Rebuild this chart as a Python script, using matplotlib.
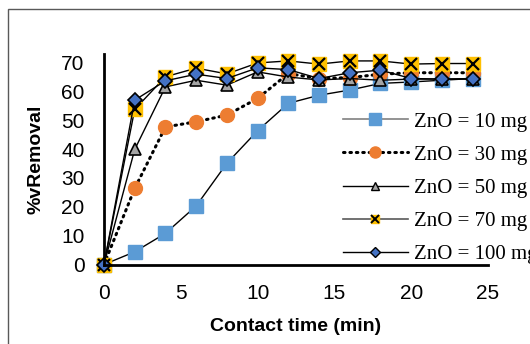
import matplotlib
matplotlib.use("Agg")
import matplotlib.pyplot as plt
from matplotlib.patches import Rectangle
from matplotlib.legend_handler import HandlerTuple

# contact time (min)
time = [0, 2, 4, 6, 8, 10, 12, 14, 16, 18, 20, 22, 24]

# % removal for each ZnO dose
zno_10 = [0, 4.4, 10.8, 20.3, 35.1, 46.4, 55.9, 58.7, 60.5, 62.8, 63.3, 63.9, 64.5]
zno_30 = [0, 26.4, 47.7, 49.5, 51.8, 57.6, 66.2, 64.5, 64.8, 66.0, 66.5, 66.5, 66.5]
zno_50 = [0, 39.9, 61.6, 63.9, 62.2, 66.8, 65.0, 64.0, 64.5, 63.9, 64.3, 64.3, 64.3]
zno_70 = [0, 53.8, 65.1, 68.1, 66.1, 69.9, 70.6, 69.5, 70.6, 70.6, 69.5, 69.7, 69.7]
zno_100 = [0, 57.0, 63.7, 66.0, 64.5, 68.2, 67.6, 64.5, 66.5, 67.4, 64.5, 64.3, 64.5]

labels = ["ZnO = 10 mg", "ZnO = 30 mg", "ZnO = 50 mg", "ZnO = 70 mg", "ZnO = 100 mg"]
x_ticks = [0, 5, 10, 15, 20, 25]
y_ticks = [0, 10, 20, 30, 40, 50, 60, 70]

W, H = 530, 344
fig = plt.figure(figsize=(W / 100, H / 100), dpi=100)

# chart area border (right and bottom edges fall outside the picture)
fig.patches.append(Rectangle((8 / W, -0.05), 1.0, 1 - 9 / H + 0.05,
                             transform=fig.transFigure, fill=False,
                             edgecolor="#595959", linewidth=1.0))

ax = fig.add_axes([104 / W, 1 - 264.5 / H, (488 - 104) / W, (264.5 - 54) / H])

ax.plot(time, zno_10, color="black", linewidth=1.0, marker="s",
        markersize=10, markerfacecolor="#5B9BD5", markeredgecolor="#5B9BD5")
ax.plot(time, zno_30, color="black", linewidth=2.2, linestyle=(0, (0.5, 1.6)),
        dash_capstyle="round", marker="o", markersize=10,
        markerfacecolor="#ED7D31", markeredgecolor="#ED7D31")
ax.plot(time, zno_50, color="black", linewidth=1.0, marker="^",
        markersize=9, markerfacecolor="#A5A5A5",
        markeredgecolor="black", markeredgewidth=1.2)
ax.plot(time, zno_70, color="black", linewidth=1.0, marker="s",
        markersize=10, markerfacecolor="#FFC000", markeredgecolor="#FFC000")
ax.plot(time, zno_70, linestyle="none", marker="x", markersize=9,
        markeredgecolor="black", markeredgewidth=1.6)
ax.plot(time, zno_100, color="black", linewidth=1.0, marker="D",
        markersize=7.5, markerfacecolor="#4472C4",
        markeredgecolor="black", markeredgewidth=1.2)

ax.set_xlim(0, 25)
ax.set_ylim(0, 73)
ax.set_xticks(x_ticks)
ax.set_yticks(y_ticks)
ax.tick_params(length=0, labelsize=15, pad=14)
for lab in ax.get_xticklabels() + ax.get_yticklabels():
    lab.set_fontfamily("Liberation Sans")
ax.spines["top"].set_visible(False)
ax.spines["right"].set_visible(False)
ax.spines["left"].set_linewidth(2)
ax.spines["bottom"].set_linewidth(2)
for line in ax.lines:
    line.set_clip_on(False)

ax.set_xlabel("Contact time (min)", fontsize=14, fontweight="bold",
              fontfamily="Liberation Sans", labelpad=11)
ax.set_ylabel("%vRemoval", fontsize=14, fontweight="bold",
              fontfamily="Liberation Sans", labelpad=12)

# legend handles: smaller markers like in the original
lg10, = ax.plot([], [], color="#808080", linewidth=1.2, marker="s", markersize=8,
                markerfacecolor="#5B9BD5", markeredgecolor="#5B9BD5")
lg30, = ax.plot([], [], color="black", linewidth=2.2, linestyle=(0, (0.5, 1.6)),
                dash_capstyle="round", marker="o", markersize=8,
                markerfacecolor="#ED7D31", markeredgecolor="#ED7D31")
lg50, = ax.plot([], [], color="black", linewidth=1.0, marker="^", markersize=6,
                markerfacecolor="#A5A5A5", markeredgecolor="black")
lg70, = ax.plot([], [], color="#595959", linewidth=1.2, marker="s", markersize=6,
                markerfacecolor="#FFC000", markeredgecolor="#FFC000")
lg70x, = ax.plot([], [], linestyle="none", marker="x", markersize=6,
                 markeredgecolor="black", markeredgewidth=1.4)
lg100, = ax.plot([], [], color="black", linewidth=1.0, marker="D", markersize=5,
                 markerfacecolor="#4472C4", markeredgecolor="black")

leg = fig.legend([lg10, lg30, lg50, (lg70, lg70x), lg100], labels,
                 handler_map={tuple: HandlerTuple(ndivide=1, pad=0)},
                 loc="upper left", bbox_to_anchor=(343 / W, 1 - 112 / H),
                 frameon=False, prop={"family": "Liberation Serif", "size": 15},
                 handlelength=3.1, handletextpad=0.3, labelspacing=0.65,
                 borderpad=0, borderaxespad=0)

fig.savefig("out.png", dpi=100)
